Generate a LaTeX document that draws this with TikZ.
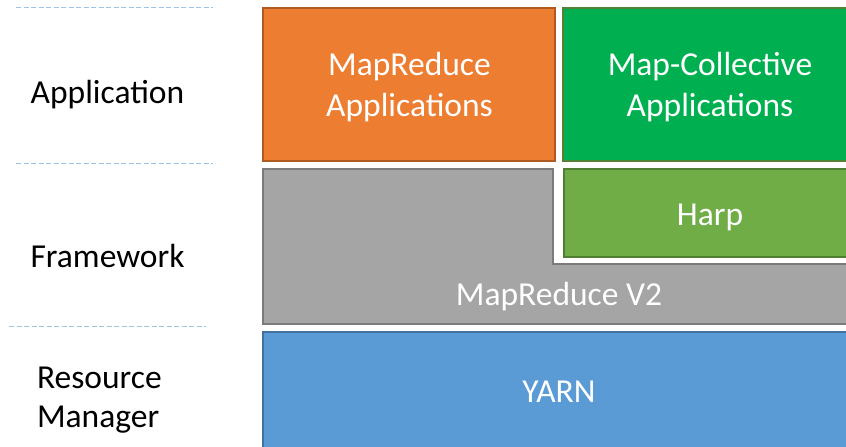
\documentclass[tikz,border=0pt]{standalone}
\usepackage{fontspec}
\setmainfont{Carlito}
\definecolor{appOrange}{HTML}{ED7D31}
\definecolor{appOrangeEdge}{HTML}{AE5A21}
\definecolor{appGreen}{HTML}{00B050}
\definecolor{appGreenEdge}{HTML}{538135}
\definecolor{harpGreen}{HTML}{70AD47}
\definecolor{harpGreenEdge}{HTML}{507E32}
\definecolor{mrGray}{HTML}{A5A5A5}
\definecolor{mrGrayEdge}{HTML}{7B7B7B}
\definecolor{yarnBlue}{HTML}{5B9BD5}
\definecolor{yarnBlueEdge}{HTML}{41719C}
\definecolor{sepBlue}{HTML}{9DC3E6}
\begin{document}
\begin{tikzpicture}[x=1pt,y=-1pt,
  every node/.style={inner sep=0pt,outer sep=0pt},
  bigtext/.style={font=\fontsize{33.5}{38.5}\selectfont},
  layerbox/.style={rectangle,draw,line width=1.6pt,anchor=north west,
    bigtext,text=white,align=center},
  layerlabel/.style={bigtext,text=black},
  boxtext/.style={bigtext,text=white,anchor=base},
  separator/.style={draw=sepBlue,line width=1pt,dash pattern=on 5pt off 2.5pt}]
\useasboundingbox (0,0) rectangle (846,447);
\clip (0,0) rectangle (846,447);

% layer separators on the left
\coordinate (s1a) at (16,7);   \coordinate (s1b) at (213,7);
\coordinate (s2a) at (16,163); \coordinate (s2b) at (213,163);
\coordinate (s3a) at (9,326);  \coordinate (s3b) at (206,326);
\path[separator] (s1a) -- (s1b);
\path[separator] (s2a) -- (s2b);
\path[separator] (s3a) -- (s3b);

% layer names
\node[layerlabel,anchor=base] (lapp) at (107.5,103) {Application};
\node[layerlabel,anchor=base] (lfw) at (107.5,267) {Framework};
\node[layerlabel,anchor=base west] (lrm1) at (37,388) {Resource};
\node[layerlabel,anchor=base west] (lrm2) at (37,427) {Manager};

% application layer
\node[layerbox,fill=appOrange,draw=appOrangeEdge,
  minimum width=292,minimum height=153] (mrapp) at (263,8) {};
\node[boxtext] (mrappt1) at (409.5,75) {MapReduce};
\node[boxtext] (mrappt2) at (409.5,116) {Applications};

\node[layerbox,fill=appGreen,draw=appGreenEdge,
  minimum width=300,minimum height=153] (mcapp) at (563,8) {};
\node[boxtext] (mcappt1) at (710,75) {Map-Collective};
\node[boxtext] (mcappt2) at (710,116) {Applications};

% framework layer: MapReduce V2 wraps around Harp
\coordinate (g1) at (263,169);
\coordinate (g2) at (553,169);
\coordinate (g3) at (553,264);
\coordinate (g4) at (870,264);
\coordinate (g5) at (870,324);
\coordinate (g6) at (263,324);
\filldraw[fill=mrGray,draw=mrGrayEdge,line width=1.6pt]
  (g1) -- (g2) -- (g3) -- (g4) -- (g5) -- (g6) -- cycle;
\node[boxtext] (mrv2) at (559,305) {MapReduce V2};

\node[layerbox,fill=harpGreen,draw=harpGreenEdge,
  minimum width=300,minimum height=88] (harp) at (564,169) {};
\node[boxtext] (harpt) at (710,225) {Harp};

% resource manager layer
\node[layerbox,fill=yarnBlue,draw=yarnBlueEdge,
  minimum width=610,minimum height=140] (yarn) at (263,332) {};
\node[boxtext] (yarnt) at (559,402) {YARN};
\end{tikzpicture}
\end{document}
